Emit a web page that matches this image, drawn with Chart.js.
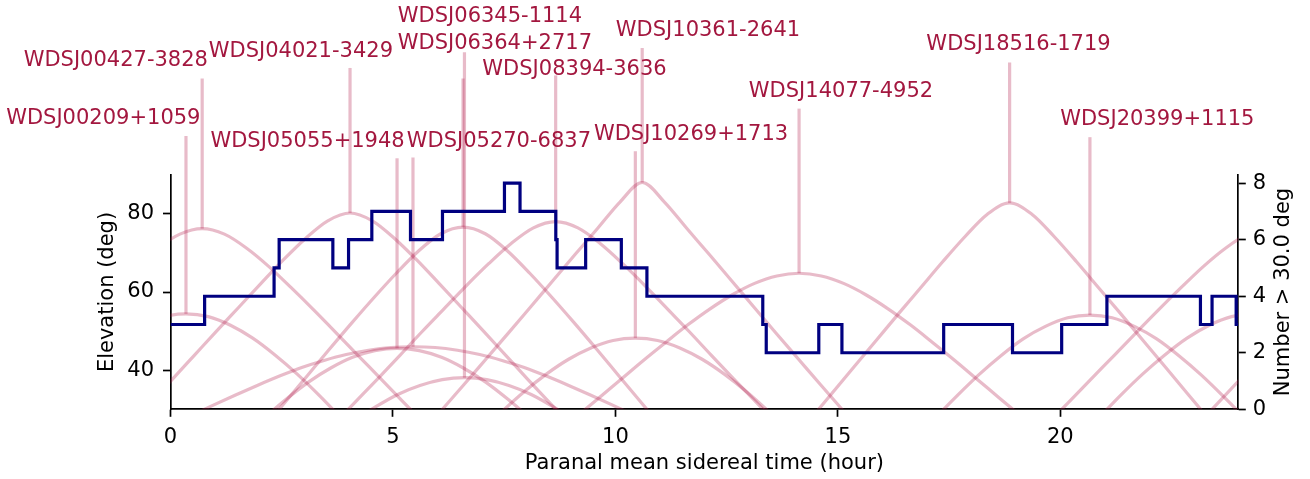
<!DOCTYPE html>
<html>
<head>
<meta charset="utf-8">
<script src="https://cdn.jsdelivr.net/npm/chart.js@4.4.1/dist/chart.umd.min.js"></script>
<style>
  html, body { margin: 0; padding: 0; background: #fff; }
  #wrap { width: 1310px; height: 479px; }
</style>
</head>
<body>
<div id="wrap"><canvas id="visChart" width="1310" height="479"></canvas></div>
<script>
// star names, transit time (hour) and where the name sits
const starNames = [
	"WDSJ00209+1059", "WDSJ00427-3828", "WDSJ04021-3429", "WDSJ05055+1948",
	"WDSJ05270-6837", "WDSJ06345-1114", "WDSJ06364+2717", "WDSJ08394-3636",
	"WDSJ10269+1713", "WDSJ10361-2641", "WDSJ14077-4952", "WDSJ18516-1719",
	"WDSJ20399+1115"
];
const transitHours = [0.348, 0.712, 4.035, 5.092, 5.45, 6.575, 6.607, 8.657, 10.448, 10.602, 14.128, 18.86, 20.665];
const labelHours = [-1.51, -1.23, 2.93, 3.08, 7.38, 7.18, 7.29, 9.08, 11.70, 12.08, 15.07, 19.06, 22.18];
const labelElev = [102.9, 117.7, 120.1, 97.0, 97.1, 129.1, 122.2, 115.4, 99.0, 125.4, 110.0, 121.8, 102.6];
const lineTopElev = [99.9, 114.6, 117.3, 94.2, 94.4, 114.6, 121.3, 115.4, 96.0, 122.4, 106.9, 118.7, 99.6];

// hour angle offsets for the elevation samples
const hourOffsets = [-6, -5.5, -5, -4.5, -4, -3.5, -3, -2.5, -2, -1.5, -1, -0.5, 0,
	0.5, 1, 1.5, 2, 2.5, 3, 3.5, 4, 4.5, 5, 5.5, 6];

const elev00209 = [-4.6, 2.1, 8.7, 15.2, 21.5, 27.6, 33.5, 39.0, 43.9, 48.2, 51.5, 53.7, 54.4, 53.7, 51.5, 48.2, 43.9, 39.0, 33.5, 27.6, 21.5, 15.2, 8.7, 2.1, -4.6];
const elev00427 = [15.0, 20.6, 26.3, 32.1, 38.0, 43.8, 49.7, 55.5, 61.1, 66.5, 71.2, 74.8, 76.2, 74.8, 71.2, 66.5, 61.1, 55.5, 49.7, 43.8, 38.0, 32.1, 26.3, 20.6, 15.0];
const elev04021 = [13.7, 19.5, 25.5, 31.5, 37.6, 43.8, 50.0, 56.1, 62.2, 68.2, 73.7, 78.2, 80.2, 78.2, 73.7, 68.2, 62.2, 56.1, 50.0, 43.8, 37.6, 31.5, 25.5, 19.5, 13.7];
const elev05055 = [-8.1, -1.7, 4.6, 10.7, 16.7, 22.3, 27.6, 32.5, 36.9, 40.5, 43.3, 45.0, 45.6, 45.0, 43.3, 40.5, 36.9, 32.5, 27.6, 22.3, 16.7, 10.7, 4.6, -1.7, -8.1];
const elev05270 = [22.8, 25.6, 28.3, 31.0, 33.6, 36.1, 38.5, 40.7, 42.5, 44.0, 45.1, 45.8, 46.0, 45.8, 45.1, 44.0, 42.5, 40.7, 38.5, 36.1, 33.6, 31.0, 28.3, 25.6, 22.8];
const elev06345 = [4.7, 11.4, 18.2, 25.0, 31.8, 38.6, 45.4, 52.1, 58.6, 64.8, 70.5, 74.9, 76.6, 74.9, 70.5, 64.8, 58.6, 52.1, 45.4, 38.6, 31.8, 25.0, 18.2, 11.4, 4.7];
const elev06364 = [-11.0, -4.9, 1.0, 6.8, 12.3, 17.5, 22.4, 26.8, 30.6, 33.8, 36.1, 37.6, 38.1, 37.6, 36.1, 33.8, 30.6, 26.8, 22.4, 17.5, 12.3, 6.8, 1.0, -4.9, -11.0];
const elev08394 = [14.4, 20.1, 26.0, 31.9, 37.8, 43.8, 49.9, 55.8, 61.7, 67.3, 72.4, 76.4, 78.0, 76.4, 72.4, 67.3, 61.7, 55.8, 49.9, 43.8, 37.8, 31.9, 26.0, 20.1, 14.4];
const elev10269 = [-7.1, -0.6, 5.8, 12.1, 18.1, 23.9, 29.4, 34.5, 39.0, 42.8, 45.7, 47.6, 48.2, 47.6, 45.7, 42.8, 39.0, 34.5, 29.4, 23.9, 18.1, 12.1, 5.8, -0.6, -7.1];
const elev10361 = [10.8, 17.1, 23.4, 29.9, 36.4, 43.0, 49.6, 56.3, 63.0, 69.7, 76.3, 83.0, 88.0, 83.0, 76.3, 69.7, 63.0, 56.3, 49.6, 43.0, 36.4, 29.9, 23.4, 17.1, 10.8];
const elev14077 = [18.6, 23.3, 28.1, 32.9, 37.7, 42.5, 47.1, 51.6, 55.7, 59.3, 62.2, 64.1, 64.8, 64.1, 62.2, 59.3, 55.7, 51.6, 47.1, 42.5, 37.7, 32.9, 28.1, 23.3, 18.6];
const elev18516 = [7.1, 13.8, 20.4, 27.2, 34.0, 40.8, 47.6, 54.4, 61.1, 67.8, 74.2, 79.9, 82.8, 79.9, 74.2, 67.8, 61.1, 54.4, 47.6, 40.8, 34.0, 27.2, 20.4, 13.8, 7.1];
const elev20399 = [-4.7, 2.0, 8.6, 15.1, 21.4, 27.5, 33.3, 38.8, 43.7, 48.0, 51.2, 53.4, 54.1, 53.4, 51.2, 48.0, 43.7, 38.8, 33.3, 27.5, 21.4, 15.1, 8.6, 2.0, -4.7];

const elevations = [elev00209, elev00427, elev04021, elev05055, elev05270, elev06345,
	elev06364, elev08394, elev10269, elev10361, elev14077, elev18516, elev20399];

// number of stars above 30 deg, value holds from that hour on
const stepHours = [0, 0.767, 2.328, 2.442, 3.649, 4.002, 4.525, 5.394, 6.113, 7.506, 7.856,
	8.66, 8.689, 9.331, 10.133, 10.708, 13.312, 13.39, 14.571, 15.091, 17.378, 18.925,
	20.03, 21.047, 23.149, 23.41, 23.952, 24];
const stepCounts = [3, 4, 5, 6, 5, 6, 7, 6, 7, 8, 7, 6, 5, 6, 5, 4, 3, 2, 3, 2, 3, 2, 3, 4, 3, 4, 3, 3];

const hourTicks = [0, 5, 10, 15, 20];
const elevTicks = [40, 60, 80];
const countTicks = [0, 2, 4, 6, 8];

const textColor = '#a3173f';
const curveColor = 'rgba(180, 30, 75, 0.3)';
const stepColor = '#000080';

Chart.defaults.font.family = "'DejaVu Sans', sans-serif";
Chart.defaults.font.size = 21;
Chart.defaults.color = '#000';

var datasets = [];

datasets.push({
	label: 'count',
	yAxisID: 'y2',
	data: stepHours.map((h, i) => ({x: h, y: stepCounts[i]})),
	stepped: true,
	borderColor: stepColor,
	borderWidth: 3.2,
	pointRadius: 0,
	fill: false
});

// one curve per star, repeated a day earlier and later so it wraps round
for (let i = 0; i < starNames.length; i++) {
	for (const shift of [-24, 0, 24]) {
		datasets.push({
			label: starNames[i],
			yAxisID: 'y',
			data: hourOffsets.map((h, k) => ({x: transitHours[i] + h + shift, y: elevations[i][k]})),
			borderColor: curveColor,
			borderWidth: 3.2,
			pointRadius: 0,
			cubicInterpolationMode: 'monotone',
			fill: false
		});
	}
}

// vertical lines from each peak up to its name
for (let i = 0; i < starNames.length; i++) {
	datasets.push({
		label: starNames[i] + ' line',
		yAxisID: 'y',
		data: [
			{x: transitHours[i], y: elevations[i][12]},
			{x: transitHours[i], y: lineTopElev[i]}
		],
		borderColor: curveColor,
		borderWidth: 3.2,
		pointRadius: 0,
		clip: false,
		fill: false
	});
}

const starLabels = {
	id: 'starLabels',
	afterDatasetsDraw(chart) {
		const ctx = chart.ctx;
		const xs = chart.scales.x, ys = chart.scales.y;
		ctx.save();
		ctx.font = "21px 'DejaVu Sans'";
		ctx.fillStyle = textColor;
		ctx.textAlign = 'center';
		ctx.textBaseline = 'alphabetic';
		for (let i = 0; i < starNames.length; i++) {
			ctx.fillText(starNames[i], xs.getPixelForValue(labelHours[i]), ys.getPixelForValue(labelElev[i]));
		}
		ctx.restore();
	}
};

// right axis title reads bottom to top like the left one
const rightTitle = {
	id: 'rightTitle',
	afterDraw(chart) {
		const ctx = chart.ctx;
		const area = chart.chartArea;
		ctx.save();
		ctx.translate(chart.scales.y2.right - 26, (area.top + area.bottom) / 2);
		ctx.rotate(-Math.PI / 2);
		ctx.font = "21px 'DejaVu Sans'";
		ctx.fillStyle = '#000';
		ctx.textAlign = 'center';
		ctx.textBaseline = 'middle';
		ctx.fillText('Number > 30.0 deg', 0, 0);
		ctx.restore();
	}
};

function axisGrid() {
	return {
		display: true,
		drawOnChartArea: false,
		drawTicks: true,
		tickLength: 7.5,
		tickWidth: 1.7,
		tickColor: '#000'
	};
}

var options = {
	responsive: false,
	animation: false,
	events: [],
	layout: { padding: { top: 174.7, left: 0, right: 0, bottom: 0 } },
	plugins: {
		legend: { display: false },
		tooltip: { enabled: false },
		title: { display: false }
	},
	scales: {
		x: {
			type: 'linear',
			position: 'bottom',
			min: 0,
			max: 24,
			afterBuildTicks: (s) => { s.ticks = hourTicks.map(v => ({value: v})); },
			afterFit: (s) => { s.height = 69.7; },
			grid: axisGrid(),
			border: { display: true, color: '#000', width: 1.7 },
			ticks: { padding: 8, maxRotation: 0, color: '#000' },
			title: {
				display: true,
				text: 'Paranal mean sidereal time (hour)',
				color: '#000',
				padding: { top: 0, bottom: 3 }
			}
		},
		y: {
			type: 'linear',
			position: 'left',
			min: 30,
			max: 90,
			afterBuildTicks: (s) => { s.ticks = elevTicks.map(v => ({value: v})); },
			afterFit: (s) => { s.width = 170.5; },
			grid: axisGrid(),
			border: { display: true, color: '#000', width: 1.7 },
			ticks: { padding: 9, color: '#000' },
			title: {
				display: true,
				text: 'Elevation (deg)',
				color: '#000',
				padding: { top: 95, bottom: 0 }
			}
		},
		y2: {
			type: 'linear',
			position: 'right',
			min: 0,
			max: 8.3,
			afterBuildTicks: (s) => { s.ticks = countTicks.map(v => ({value: v})); },
			afterFit: (s) => { s.width = 71.7; },
			grid: axisGrid(),
			border: { display: true, color: '#000', width: 1.7 },
			ticks: { padding: 7, color: '#000' }
		}
	}
};

new Chart(document.getElementById('visChart').getContext('2d'), {
	type: 'line',
	data: { datasets: datasets },
	options: options,
	plugins: [starLabels, rightTitle]
});
</script>
</body>
</html>
